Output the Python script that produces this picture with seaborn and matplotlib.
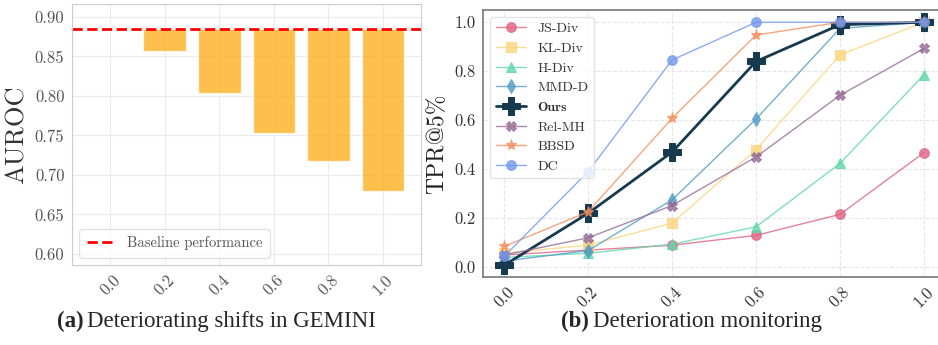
import numpy as np
import pandas as pd
import seaborn as sns
from matplotlib import pyplot as plt

# ---------- dados ----------
shift_labels = ['0.0', '0.2', '0.4', '0.6', '0.8', '1.0']
baseline = 0.885
auroc = [0.885, 0.857, 0.804, 0.753, 0.718, 0.679]

sev = [0.0, 0.2, 0.4, 0.6, 0.8, 1.0]
js_div = [0.05, 0.07, 0.09, 0.13, 0.216, 0.468]
kl_div = [0.057, 0.09, 0.18, 0.48, 0.867, 1.0]
h_div = [0.04, 0.057, 0.094, 0.165, 0.424, 0.786]
mmd_d = [0.025, 0.068, 0.275, 0.605, 0.975, 1.0]
ours = [0.008, 0.22, 0.47, 0.84, 0.99, 1.0]
rel_mh = [0.05, 0.12, 0.252, 0.45, 0.702, 0.893]
bbsd = [0.085, 0.226, 0.608, 0.948, 1.0, 1.0]
dc = [0.044, 0.39, 0.846, 1.0, 1.0, 1.0]

sns.set_style('whitegrid')
plt.rcParams['font.family'] = ['cmr10']
plt.rcParams['mathtext.fontset'] = 'cm'
plt.rcParams['axes.formatter.use_mathtext'] = True
plt.rcParams['axes.unicode_minus'] = False

fig = plt.figure(figsize=(9.38, 3.45), dpi=100)

# ---------- (a) barras ----------
ax1 = fig.add_axes([0.0768, 0.232, 0.372, 0.757])
drop = pd.DataFrame({'shift': shift_labels, 'delta': np.array(auroc) - baseline})
sns.barplot(data=drop, x='shift', y='delta', bottom=baseline, color='orange', alpha=0.7,
            width=0.78, edgecolor='white', linewidth=1, saturation=1, ax=ax1)
ax1.axhline(baseline, color='red', linestyle='--', linewidth=2, label='Baseline performance')
ax1.set_ylim(0.586, 0.9165)
ax1.set_xlim(-0.7, 5.7)
ax1.set_yticks([0.60, 0.65, 0.70, 0.75, 0.80, 0.85, 0.90])
ax1.set_yticklabels(['0.60', '0.65', '0.70', '0.75', '0.80', '0.85', '0.90'])
ax1.set_xlabel('')
ax1.set_ylabel('AUROC', fontsize=19, color='#333333', labelpad=4)
ax1.tick_params(axis='x', rotation=45, labelsize=12, labelcolor='#555555', pad=2)
ax1.tick_params(axis='y', labelsize=12, labelcolor='#555555', pad=2)
ax1.grid(True, color='#ebebeb', linewidth=0.8)
ax1.set_axisbelow(True)
for s in ax1.spines.values():
    s.set_color('#cccccc')
leg1 = ax1.legend(loc='lower left', fontsize=10.5, frameon=True, borderpad=0.5)
leg1.get_frame().set_edgecolor('#dddddd')
for t in leg1.get_texts():
    t.set_color('#555555')

# ---------- (b) linhas ----------
ax2 = fig.add_axes([0.515, 0.197, 0.4925, 0.774])
series = [
    ('JS-Div', js_div, '#e06283', 'o', 7, 1.0),
    ('KL-Div', kl_div, '#fbd57f', 's', 7, 1.0),
    ('H-Div', h_div, '#5fd8a8', '^', 7, 1.0),
    ('MMD-D', mmd_d, '#4e9cc6', 'd', 7, 1.0),
    ('Ours', ours, '#173a4e', 'P', 13, 2.0),
    ('Rel-MH', rel_mh, '#956b96', 'X', 7, 1.0),
    ('BBSD', bbsd, '#f48f5f', '*', 8, 1.0),
    ('DC', dc, '#7198ec', 'o', 7, 1.0),
]
for name, vals, col, mk, ms, lw in series:
    a = 1.0 if name == 'Ours' else 0.8
    sns.lineplot(x=sev, y=vals, color=col, marker=mk, markersize=ms, linewidth=lw,
                 markeredgecolor=col, alpha=a, label=name, ax=ax2)
ax2.set_xlim(-0.05, 1.05)
ax2.set_ylim(-0.04, 1.05)
ax2.set_xticks(sev)
ax2.set_xticklabels(shift_labels)
ax2.set_yticks([0.0, 0.2, 0.4, 0.6, 0.8, 1.0])
ax2.set_yticklabels(['0.0', '0.2', '0.4', '0.6', '0.8', '1.0'])
ax2.set_xlabel('')
ax2.set_ylabel('TPR@5%', fontsize=17, color='#222222', labelpad=4)
ax2.tick_params(axis='x', rotation=45, labelsize=12, labelcolor='#333333', pad=2)
ax2.tick_params(axis='y', labelsize=12, labelcolor='#333333', pad=2)
ax2.grid(True, linestyle='--', color='#e6e6e6', linewidth=0.8)
for s in ax2.spines.values():
    s.set_color('#777777')
    s.set_linewidth(1.2)
leg2 = ax2.legend(loc='upper left', fontsize=10, frameon=True, borderpad=0.4,
                  labelspacing=0.5, handlelength=2.2)
leg2.get_frame().set_edgecolor('#dddddd')
for t in leg2.get_texts():
    t.set_color('#333333')
    if t.get_text() == 'Ours':
        t.set_fontfamily('cmb10')

# ---------- legendas das figuras ----------
fig.text(0.089, 0.067, '(a)', fontsize=16.5, fontweight='bold', family='Liberation Serif',
         ha='right', va='center')
fig.text(0.093, 0.067, 'Deteriorating shifts in GEMINI', fontsize=16.5,
         family='Liberation Serif', ha='left', va='center')
fig.text(0.628, 0.067, '(b)', fontsize=16.5, fontweight='bold', family='Liberation Serif',
         ha='right', va='center')
fig.text(0.632, 0.067, 'Deterioration monitoring', fontsize=16.5,
         family='Liberation Serif', ha='left', va='center')

fig.savefig('out.png', dpi=100)
